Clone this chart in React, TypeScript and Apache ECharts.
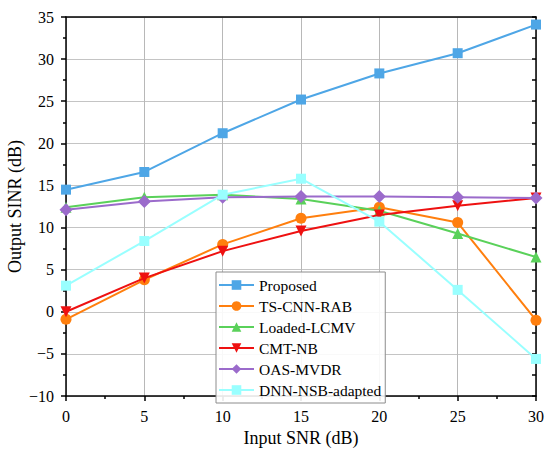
import React, { useEffect, useRef } from "react";
import * as echarts from "echarts";

const snr = [0, 5, 10, 15, 20, 25, 30];
const seriesNames = ["Proposed", "TS-CNN-RAB", "Loaded-LCMV", "CMT-NB", "OAS-MVDR", "DNN-NSB-adapted"];
const proposed = [14.5, 16.6, 21.2, 25.2, 28.3, 30.7, 34.1];
const tsCnnRab = [-0.9, 3.8, 8.0, 11.1, 12.4, 10.6, -1.0];
const loadedLcmv = [12.4, 13.6, 13.9, 13.4, 12.0, 9.3, 6.5];
const cmtNb = [0.0, 4.0, 7.2, 9.6, 11.5, 12.6, 13.5];
const oasMvdr = [12.1, 13.1, 13.6, 13.7, 13.7, 13.6, 13.5];
const dnnNsb = [3.1, 8.4, 13.9, 15.8, 10.7, 2.6, -5.6];
const colors = ["#4ea6e6", "#ff7f0e", "#5ad15a", "#ee1111", "#9b6bcb", "#99ffff"];
const symbols = ["rect", "circle", "triangle", "path://M0,0 L10,0 L5,10 Z", "diamond", "rect"];
const symbolSizes = [10, 11, 11, 11, 13, 10];

const FONT = "Liberation Serif";

export default function App() {
  const ref = useRef<HTMLDivElement>(null);
  useEffect(() => {
    const chart = echarts.init(ref.current!, null, { renderer: "svg" });
    const all = [proposed, tsCnnRab, loadedLcmv, cmtNb, oasMvdr, dnnNsb];
    const series = all.map((vals, i) => ({
      name: seriesNames[i],
      type: "line",
      data: snr.map((x, j) => [x, vals[j]]),
      symbol: symbols[i],
      symbolSize: symbolSizes[i],
      lineStyle: { color: colors[i], width: 2 },
      itemStyle: { color: colors[i] },
      z: 2 + i,
    }));
    const labelStyle = { fontFamily: FONT, fontSize: 16, color: "#000" };
    chart.setOption({
      animation: false,
      backgroundColor: "#ffffff",
      textStyle: { fontFamily: FONT },
      grid: { left: 66, right: 14, top: 17, bottom: 59, containLabel: false, outerBoundsMode: "none" },
      legend: {
        orient: "vertical",
        left: 216,
        top: 272,
        width: 169,
        itemWidth: 35,
        itemHeight: 12,
        itemGap: 5,
        padding: [5, 4, 5, 2],
        borderColor: "#8c8c8c",
        borderWidth: 1,
        backgroundColor: "rgba(255,255,255,0.9)",
        textStyle: { fontFamily: FONT, fontSize: 15.5, color: "#000" },
        data: seriesNames,
      },
      xAxis: [
        {
          type: "value",
          min: 0,
          max: 30,
          interval: 5,
          name: "Input SNR (dB)",
          nameLocation: "middle",
          nameGap: 33,
          nameMoveOverlap: false,
          nameTextStyle: { fontFamily: FONT, fontSize: 18, color: "#000" },
          axisLine: { show: true, onZero: false, lineStyle: { color: "#000", width: 1.5 } },
          axisTick: { show: true, inside: false, length: 5, lineStyle: { color: "#000", width: 1.5 } },
          minorTick: { show: true, splitNumber: 2, length: 3, lineStyle: { color: "#000", width: 1.5 } },
          axisLabel: { ...labelStyle, margin: 12 },
          splitLine: { show: true, lineStyle: { color: "#b8b8b8", width: 1 } },
        },
        {
          type: "value",
          position: "top",
          min: 0,
          max: 30,
          interval: 5,
          axisLine: { show: true, onZero: false, lineStyle: { color: "#000", width: 1.5 } },
          axisTick: { show: false },
          axisLabel: { show: false },
          splitLine: { show: false },
        },
      ],
      yAxis: [
        {
          type: "value",
          min: -10,
          max: 35,
          interval: 5,
          name: "Output SINR (dB)",
          nameLocation: "middle",
          nameGap: 42,
          nameMoveOverlap: false,
          nameTextStyle: { fontFamily: FONT, fontSize: 18, color: "#000" },
          axisLine: { show: true, onZero: false, lineStyle: { color: "#000", width: 1.5 } },
          axisTick: { show: true, inside: false, length: 5, lineStyle: { color: "#000", width: 1.5 } },
          minorTick: { show: true, splitNumber: 2, length: 3, lineStyle: { color: "#000", width: 1.5 } },
          axisLabel: {
            ...labelStyle,
            margin: 12,
            formatter: (v: number) => (v < 0 ? "\u2212" + Math.abs(v) : String(v)),
          },
          splitLine: { show: true, lineStyle: { color: "#c4c4c4", width: 1 } },
        },
        {
          type: "value",
          position: "right",
          min: -10,
          max: 35,
          interval: 5,
          axisLine: { show: true, onZero: false, lineStyle: { color: "#000", width: 1.5 } },
          axisTick: { show: true, inside: true, length: 4, lineStyle: { color: "#000", width: 1.5 } },
          minorTick: { show: true, splitNumber: 2, length: 4, lineStyle: { color: "#000", width: 1.5 } },
          axisLabel: { show: false },
          splitLine: { show: false },
        },
      ],
      series,
    });
    return () => chart.dispose();
  }, []);
  return (
    <div
      ref={ref}
      style={{ position: "fixed", left: 0, top: 0, width: 550, height: 455 }}
    />
  );
}
